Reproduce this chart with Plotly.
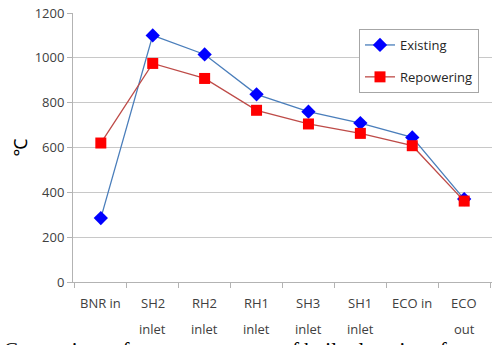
import plotly.graph_objects as go

categories = ["BNR in", "SH2 inlet", "RH2 inlet", "RH1 inlet", "SH3 inlet", "SH1 inlet", "ECO in", "ECO out"]
label_line1 = ["BNR in", "SH2", "RH2", "RH1", "SH3", "SH1", "ECO in", "ECO"]
label_line2 = ["", "inlet", "inlet", "inlet", "inlet", "inlet", "", "out"]
existing = [285, 1100, 1015, 837, 760, 709, 645, 370]
repowering = [620, 975, 908, 766, 705, 663, 608, 361]
y_ticks = [0, 200, 400, 600, 800, 1000, 1200]
caption = "Comparison of gas temperatures of boiler locations for"

W, H = 492, 345
L, R, T, B = 73, 0, 13, 63
pw = W - L - R
ph = H - T - B

fig = go.Figure()
fig.add_trace(go.Scatter(
    x=categories, y=existing, name="Existing", mode="lines+markers",
    line=dict(color="#4a7ebb", width=1.3),
    marker=dict(symbol="diamond", size=11, color="#0000ff", line=dict(width=0)),
    legendgroup="a"))
fig.add_trace(go.Scatter(
    x=categories, y=repowering, name="Repowering", mode="lines+markers",
    line=dict(color="#be4b48", width=1.3),
    marker=dict(symbol="square", size=11, color="#ff0000", line=dict(width=0)),
    legendgroup="b"))

tickfont = dict(family="Open Sans, Noto Sans, sans-serif", size=13, color="#404040")

annotations = []
for c, l1, l2 in zip(categories, label_line1, label_line2):
    annotations.append(dict(x=c, y=-0.078, xref="x", yref="paper", text=l1,
                            showarrow=False, yanchor="middle", font=tickfont))
    if l2:
        annotations.append(dict(x=c, y=-0.175, xref="x", yref="paper", text=l2,
                                showarrow=False, yanchor="middle", font=tickfont))
annotations.append(dict(x=(2 - L) / pw, y=(H - B - 336) / ph, xref="paper", yref="paper",
                        text=caption, showarrow=False, xanchor="left", yanchor="top",
                        font=dict(family="Liberation Serif, Times New Roman, serif", size=21, color="#000000")))

fig.update_layout(
    width=W, height=H,
    margin=dict(l=L, r=R, t=T, b=B),
    paper_bgcolor="white", plot_bgcolor="white",
    showlegend=True,
    legend=dict(x=(359 - L) / pw, y=(H - B - 29) / ph, xanchor="left", yanchor="top",
                bordercolor="#a6a6a6", borderwidth=1, bgcolor="white",
                font=dict(family="Open Sans, Noto Sans, sans-serif", size=13, color="#262626"),
                tracegroupgap=12, traceorder="grouped", itemwidth=30),
    xaxis=dict(type="category", showgrid=False, showline=True, linecolor="#b3b3b3", linewidth=1,
               ticks="outside", ticklen=5, tickcolor="#b3b3b3", tickson="boundaries",
               showticklabels=False, fixedrange=True),
    yaxis=dict(range=[0, 1200], tickvals=y_ticks, showgrid=True, gridcolor="#c8c8c8", gridwidth=1,
               showline=True, linecolor="#b3b3b3", linewidth=1, zeroline=False,
               ticks="outside", ticklen=5, tickcolor="#b3b3b3", tickfont=tickfont,
               title=dict(text="℃", font=dict(family="Noto Sans, sans-serif", size=18, color="#000000"), standoff=2)),
    annotations=annotations,
)

fig.write_html("out.html", config={"displayModeBar": False},
               post_script="document.body.style.margin='0px';document.body.style.overflow='hidden';")
